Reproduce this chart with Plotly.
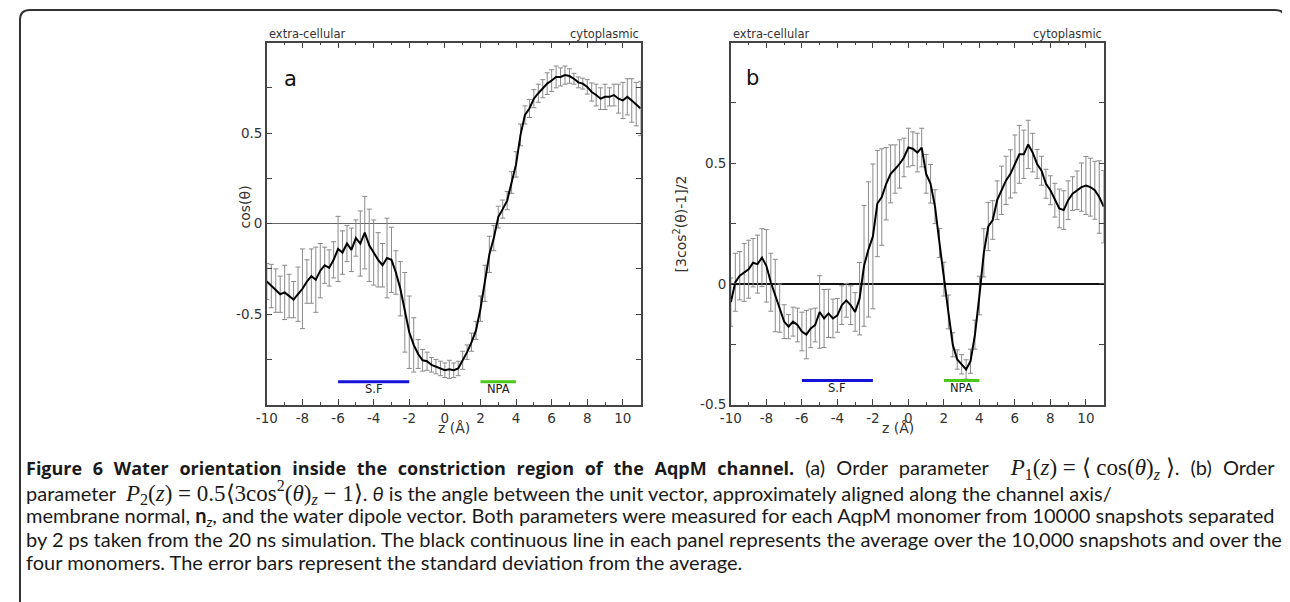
import plotly.graph_objects as go

# ---------------- data ----------------
z_a = [round(-10 + 0.25 * i, 2) for i in range(85)]
p1 = [-0.32, -0.345, -0.37, -0.39, -0.38, -0.40, -0.42, -0.39, -0.36, -0.32,
      -0.29, -0.31, -0.26, -0.23, -0.245, -0.20, -0.14, -0.16, -0.11, -0.145,
      -0.08, -0.11, -0.05, -0.12, -0.16, -0.20, -0.23, -0.19, -0.20, -0.27,
      -0.36, -0.49, -0.60, -0.67, -0.72, -0.755, -0.76, -0.78, -0.79, -0.80,
      -0.81, -0.805, -0.81, -0.80, -0.755, -0.71, -0.655, -0.59, -0.47, -0.33,
      -0.17, -0.08, 0.036, 0.08, 0.127, 0.227, 0.327, 0.49, 0.60, 0.636,
      0.69, 0.72, 0.745, 0.773, 0.79, 0.81, 0.81, 0.82, 0.815, 0.80,
      0.78, 0.773, 0.755, 0.727, 0.71, 0.69, 0.70, 0.70, 0.71, 0.69,
      0.68, 0.70, 0.68, 0.66, 0.636]
p1_err = [0.10, 0.12, 0.12, 0.10, 0.15, 0.12, 0.10, 0.15, 0.22, 0.12,
          0.15, 0.18, 0.15, 0.10, 0.10, 0.10, 0.18, 0.12, 0.10, 0.12,
          0.10, 0.18, 0.20, 0.20, 0.18, 0.15, 0.12, 0.22, 0.18, 0.12,
          0.15, 0.22, 0.20, 0.15, 0.08, 0.06, 0.05, 0.04, 0.04, 0.04,
          0.04, 0.05, 0.04, 0.04, 0.05, 0.04, 0.05, 0.05, 0.07, 0.10,
          0.10, 0.07, 0.06, 0.05, 0.05, 0.06, 0.07, 0.06, 0.05, 0.05,
          0.05, 0.05, 0.05, 0.06, 0.06, 0.06, 0.05, 0.05, 0.04, 0.03,
          0.03, 0.03, 0.04, 0.05, 0.06, 0.06, 0.07, 0.05, 0.06, 0.08,
          0.10, 0.10, 0.12, 0.12, 0.15]

z_b = [round(-10 + 0.25 * i, 2) for i in range(85)]
p2 = [-0.075, 0.007, 0.034, 0.048, 0.061, 0.088, 0.082, 0.109, 0.075, 0.007,
      -0.048, -0.10, -0.156, -0.177, -0.156, -0.17, -0.197, -0.21, -0.184, -0.17,
      -0.116, -0.143, -0.122, -0.143, -0.13, -0.088, -0.068, -0.088, -0.116, -0.061,
      0.075, 0.143, 0.197, 0.333, 0.36, 0.415, 0.456, 0.476, 0.497, 0.524,
      0.565, 0.56, 0.544, 0.565, 0.456, 0.415, 0.32, 0.17, 0.02, -0.116,
      -0.252, -0.313, -0.333, -0.354, -0.32, -0.21, -0.048, 0.129, 0.238, 0.265,
      0.347, 0.388, 0.429, 0.456, 0.497, 0.537, 0.537, 0.578, 0.544, 0.497,
      0.469, 0.415, 0.388, 0.347, 0.313, 0.306, 0.347, 0.374, 0.388, 0.401,
      0.408, 0.401, 0.388, 0.36, 0.32]
p2_err = [0.10, 0.12, 0.10, 0.12, 0.12, 0.10, 0.12, 0.12, 0.15, 0.12,
          0.15, 0.10, 0.07, 0.05, 0.06, 0.07, 0.08, 0.10, 0.08, 0.07,
          0.15, 0.12, 0.10, 0.08, 0.07, 0.08, 0.07, 0.08, 0.08, 0.15,
          0.25, 0.28, 0.30, 0.22, 0.20, 0.15, 0.12, 0.10, 0.10, 0.08,
          0.08, 0.07, 0.08, 0.08, 0.08, 0.08, 0.07, 0.06, 0.07, 0.07,
          0.05, 0.04, 0.04, 0.04, 0.05, 0.06, 0.08, 0.10, 0.10, 0.08,
          0.08, 0.10, 0.10, 0.10, 0.12, 0.12, 0.10, 0.10, 0.08, 0.06,
          0.06, 0.06, 0.06, 0.07, 0.08, 0.08, 0.08, 0.07, 0.08, 0.10,
          0.12, 0.12, 0.12, 0.15, 0.15]

x_ticks = [-10, -8, -6, -4, -2, 0, 2, 4, 6, 8, 10]
x_ticktext = ["-10", "-8", "-6", "-4", "-2", "0", "2", "4", "6", "8", "10"]
y_ticks = [-0.5, 0, 0.5]
y_ticktext = ["-0.5", "0", "0.5"]
sf_range = [-6, -2]
npa_range = [2, 4]

W, H = 1290, 602
OX, OY = 8, 8   # page body margin offset compensation


def px(x):
    return (x - OX) / W


def py(y):
    return 1 - (y - OY) / H


fig = go.Figure()
for z, v, e, xa, ya in [(z_a, p1, p1_err, "x", "y"), (z_b, p2, p2_err, "x2", "y2")]:
    fig.add_trace(go.Scatter(
        x=z, y=v, mode="lines", xaxis=xa, yaxis=ya,
        line=dict(color="#000000", width=2),
        error_y=dict(type="data", array=e, visible=True, color="#8a8a8a",
                     thickness=1, width=2.5),
        showlegend=False, hoverinfo="skip"))

tickfont = dict(family="DejaVu Sans", size=13.5, color="#333333")
xcommon = dict(range=[-10, 11], tickvals=x_ticks, ticktext=x_ticktext, ticks="inside",
               ticklen=6, tickwidth=1.2, tickcolor="#444", showline=True, linecolor="#444",
               linewidth=1.5, mirror="ticks", showgrid=False, zeroline=False,
               tickfont=tickfont,
               minor=dict(dtick=1, tick0=-10, ticks="inside", ticklen=3,
                          tickcolor="#444", tickwidth=1.2, showgrid=False))
ycommon = dict(tickvals=y_ticks, ticktext=y_ticktext, ticks="inside", ticklen=5,
               tickwidth=1.2, tickcolor="#444", showline=True, linecolor="#444",
               linewidth=1.5, mirror="ticks", showgrid=False, tickfont=tickfont,
               minor=dict(dtick=0.25, tick0=0, ticks="inside", ticklen=5,
                          tickcolor="#444", tickwidth=1.2, showgrid=False))

fig.update_layout(
    width=W, height=H, margin=dict(l=0, r=0, t=0, b=0),
    paper_bgcolor="white", plot_bgcolor="white",
    xaxis=dict(domain=[px(258), px(635)], anchor="y", **xcommon),
    yaxis=dict(domain=[py(410), py(43)], anchor="x", range=[-1, 1],
               zeroline=True, zerolinecolor="#666666", zerolinewidth=1.2, **ycommon),
    xaxis2=dict(domain=[px(726), px(1102)], anchor="y2", **xcommon),
    yaxis2=dict(domain=[py(410), py(43)], anchor="x2", range=[-0.5, 1.0],
                zeroline=True, zerolinecolor="#111111", zerolinewidth=1.5, **ycommon),
)

shapes = []
annots = []
# region bars
for xr, yr, bary in [("x", "y", -0.873), ("x2", "y2", -0.40)]:
    shapes.append(dict(type="line", xref=xr, yref=yr, x0=sf_range[0], x1=sf_range[1],
                       y0=bary, y1=bary, line=dict(color="#1414d8", width=3)))
    shapes.append(dict(type="line", xref=xr, yref=yr, x0=npa_range[0], x1=npa_range[1],
                       y0=bary, y1=bary, line=dict(color="#4cc81a", width=3)))

smallfont = dict(family="DejaVu Sans", size=11.5, color="#222")
for xr, yr, ly in [("x", "y", -0.915), ("x2", "y2", -0.43)]:
    annots.append(dict(text="S.F", x=sum(sf_range) / 2, y=ly, xref=xr, yref=yr,
                       showarrow=False, font=smallfont, xanchor="center", yanchor="middle"))
    annots.append(dict(text="NPA", x=sum(npa_range) / 2, y=ly, xref=xr, yref=yr,
                       showarrow=False, font=smallfont, xanchor="center", yanchor="middle"))

topfont = dict(family="DejaVu Sans", size=11.5, color="#333")
for xl, xr_ in [(258, 635), (726, 1102)]:
    annots.append(dict(text="extra-cellular", x=px(xl), y=py(34), xref="paper", yref="paper",
                       showarrow=False, font=topfont, xanchor="left", yanchor="middle"))
    annots.append(dict(text="cytoplasmic", x=px(xr_), y=py(34), xref="paper", yref="paper",
                       showarrow=False, font=topfont, xanchor="right", yanchor="middle"))

labfont = dict(family="DejaVu Sans", size=21, color="#111")
annots.append(dict(text="a", x=px(273), y=py(66), xref="paper", yref="paper",
                   showarrow=False, font=labfont))
annots.append(dict(text="b", x=px(748), y=py(65), xref="paper", yref="paper",
                   showarrow=False, font=labfont))

axfont = dict(family="DejaVu Sans", size=14, color="#333")
annots.append(dict(text="z (Å)", x=px(447), y=py(444), xref="paper", yref="paper",
                   showarrow=False, font=axfont))
annots.append(dict(text="z (Å)", x=px(913), y=py(444), xref="paper", yref="paper",
                   showarrow=False, font=axfont))
annots.append(dict(text="cos(θ)", x=px(226), y=py(210), xref="paper", yref="paper",
                   showarrow=False, font=axfont, textangle=-90))
annots.append(dict(text="[3cos<sup>2</sup>(θ)-1]/2", x=px(675), y=py(227), xref="paper",
                   yref="paper", showarrow=False, font=axfont, textangle=-90))

# caption
capfont = dict(family="Lato", size=20, color="#1a1a1a")
mth = "font-family:Liberation Serif;font-size:23px"
bold = "font-family:Open Sans;font-size:18px;font-weight:bold;word-spacing:6px"
cap_lines = [
    ("<span style='" + bold + "'>Figure 6 Water orientation inside the constriction region "
     "of the AqpM channel.</span>"
     "<span style='word-spacing:6px'> (a) Order parameter  </span><span style='" + mth + "'>"
     "<i>P</i><sub>1</sub>(<i>z</i>) = ⟨ cos(<i>θ</i>)<sub><i>z</i></sub> ⟩</span>"
     "<span style='word-spacing:6px'>. (b) Order</span>", 475),
    ("parameter  <span style='" + mth + "'><i>P</i><sub>2</sub>(<i>z</i>) = 0.5⟨3cos<sup>2</sup>"
     "(<i>θ</i>)<sub><i>z</i></sub> − 1⟩</span>. <i>θ</i> is the angle between the unit vector, "
     "approximately aligned along the channel axis/", 499),
    ("membrane normal, <b>n</b><sub><i>z</i></sub>, and the water dipole vector. Both parameters "
     "were measured for each AqpM monomer from 10000 snapshots separated", 523),
    ("by 2 ps taken from the 20 ns simulation. The black continuous line in each panel represents "
     "the average over the 10,000 snapshots and over the", 546),
    ("four monomers. The error bars represent the standard deviation from the average.", 569),
]
for txt, yy in cap_lines:
    annots.append(dict(text=txt, x=px(13), y=py(yy), xref="paper", yref="paper",
                       showarrow=False, font=capfont, xanchor="left", yanchor="middle",
                       align="left"))


# outer rounded frame
def P(xp, yp):
    return f"{px(xp)},{py(yp)}"


path = (f"M {P(9, 620)} L {P(9, 20)} Q {P(9, 10)} {P(19, 10)} L {P(1275, 10)} "
        f"Q {P(1285, 10)} {P(1285, 20)} L {P(1285, 620)}")
shapes.append(dict(type="path", xref="paper", yref="paper", path=path,
                   line=dict(color="#333", width=2)))

fig.update_layout(shapes=shapes, annotations=annots)
fig.write_html("out.html")
